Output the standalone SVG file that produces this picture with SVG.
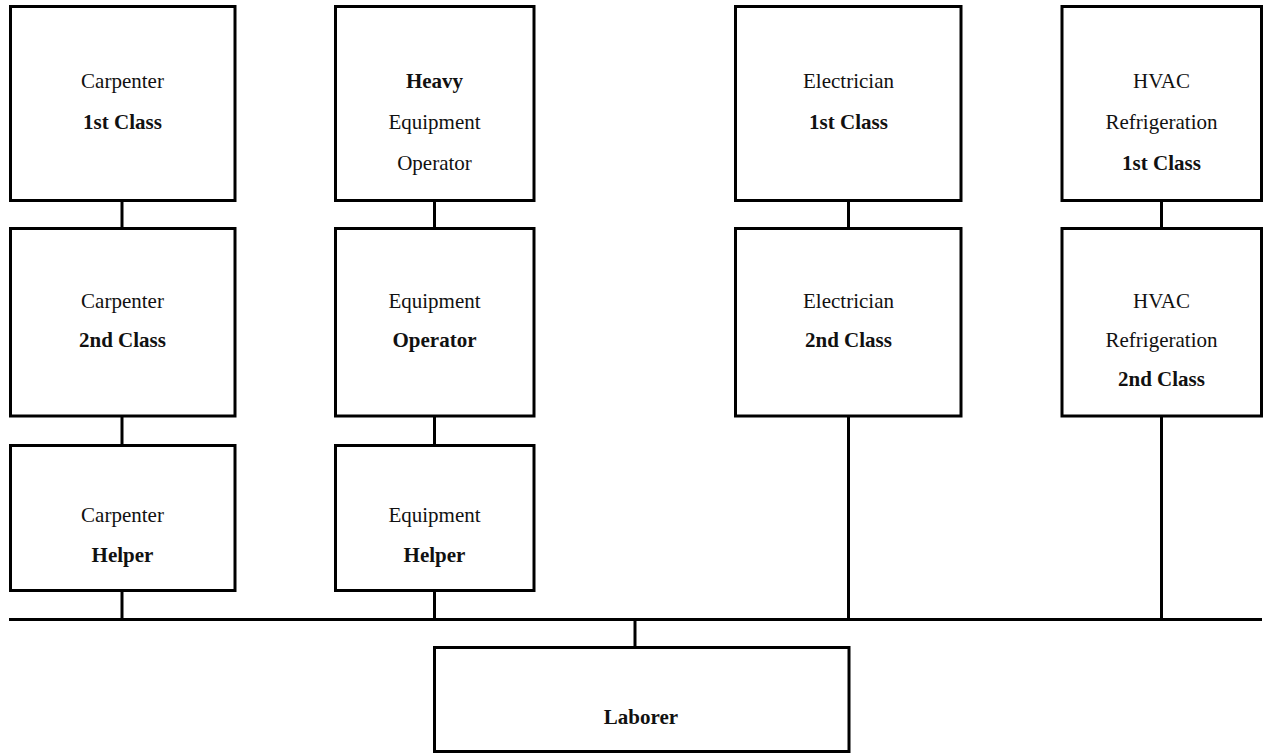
<svg xmlns="http://www.w3.org/2000/svg" width="1264" height="756" viewBox="0 0 1264 756">
<style>
.box{fill:#fff;stroke:#000;stroke-width:3}
.ln{stroke:#000;stroke-width:3;fill:none}
text{font-family:"Liberation Serif","Times New Roman",serif;font-size:21px;fill:#111;text-anchor:middle}
.b{font-weight:bold}
</style>
<rect width="1264" height="756" fill="#fff"/>
<g id="connectors">
<line class="ln" x1="9" y1="619.5" x2="1262" y2="619.5"/>
<line class="ln" x1="122" y1="200" x2="122" y2="229"/>
<line class="ln" x1="122" y1="416" x2="122" y2="446"/>
<line class="ln" x1="122" y1="590" x2="122" y2="619.5"/>
<line class="ln" x1="434.5" y1="200" x2="434.5" y2="229"/>
<line class="ln" x1="434.5" y1="416" x2="434.5" y2="446"/>
<line class="ln" x1="434.5" y1="590" x2="434.5" y2="619.5"/>
<line class="ln" x1="848.5" y1="200" x2="848.5" y2="229"/>
<line class="ln" x1="848.5" y1="416" x2="848.5" y2="619.5"/>
<line class="ln" x1="1161.5" y1="200" x2="1161.5" y2="229"/>
<line class="ln" x1="1161.5" y1="416" x2="1161.5" y2="619.5"/>
<line class="ln" x1="635" y1="619.5" x2="635" y2="648"/>
</g>
<g id="carpenter1"><rect class="box" x="10.5" y="6.5" width="224.5" height="194"/><text x="122.5" y="87.5">Carpenter</text><text class="b" x="122.5" y="128.5">1st Class</text></g>
<g id="carpenter2"><rect class="box" x="10.5" y="228.5" width="224.5" height="187.5"/><text x="122.5" y="308">Carpenter</text><text class="b" x="122.5" y="347">2nd Class</text></g>
<g id="carpenterHelper"><rect class="box" x="10.5" y="445.5" width="224.5" height="145"/><text x="122.5" y="521.5">Carpenter</text><text class="b" x="122.5" y="561.5">Helper</text></g>
<g id="heavyOperator"><rect class="box" x="335.5" y="6.5" width="198.5" height="194"/><text class="b" x="434.5" y="87.5">Heavy</text><text x="434.5" y="128.5">Equipment</text><text x="434.5" y="170">Operator</text></g>
<g id="equipOperator"><rect class="box" x="335.5" y="228.5" width="198.5" height="187.5"/><text x="434.5" y="308">Equipment</text><text class="b" x="434.5" y="347">Operator</text></g>
<g id="equipHelper"><rect class="box" x="335.5" y="445.5" width="198.5" height="145"/><text x="434.5" y="521.5">Equipment</text><text class="b" x="434.5" y="561.5">Helper</text></g>
<g id="electrician1"><rect class="box" x="735.5" y="6.5" width="225.5" height="194"/><text x="848.5" y="87.5">Electrician</text><text class="b" x="848.5" y="128.5">1st Class</text></g>
<g id="electrician2"><rect class="box" x="735.5" y="228.5" width="225.5" height="187.5"/><text x="848.5" y="308">Electrician</text><text class="b" x="848.5" y="347">2nd Class</text></g>
<g id="hvac1"><rect class="box" x="1062" y="6.5" width="199.5" height="194"/><text x="1161.5" y="87.5">HVAC</text><text x="1161.5" y="128.5">Refrigeration</text><text class="b" x="1161.5" y="170">1st Class</text></g>
<g id="hvac2"><rect class="box" x="1062" y="228.5" width="199.5" height="187.5"/><text x="1161.5" y="308">HVAC</text><text x="1161.5" y="347">Refrigeration</text><text class="b" x="1161.5" y="386">2nd Class</text></g>
<g id="laborer"><rect class="box" x="434.5" y="647.5" width="414.5" height="104"/><text class="b" x="641" y="724">Laborer</text></g>
</svg>
